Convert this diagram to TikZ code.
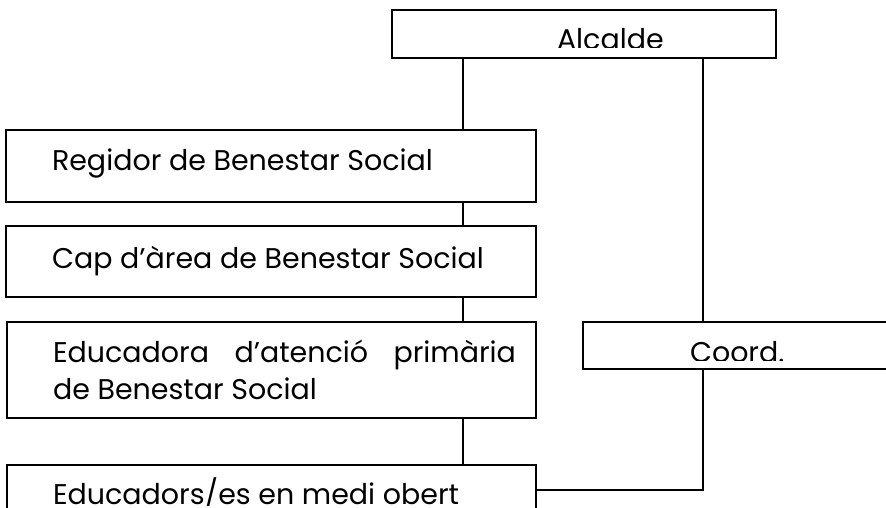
\documentclass[tikz,border=0pt]{standalone}
\usepackage{fontspec}
\setmainfont{Poppins}
\begin{document}
\begin{tikzpicture}[x=1pt,y=-1pt,
  box/.style={draw, line width=1.6pt, inner sep=0pt, outer sep=0pt, rectangle},
  wire/.style={line width=1.6pt},
  lbl/.style={anchor=base west, inner sep=0pt, outer sep=0pt, font=\fontsize{28.5}{36}\selectfont}]
\useasboundingbox (0,0) rectangle (886,508);
% boxes
\node[box, minimum width=384pt, minimum height=48pt] (alc) at (584,34) {};
\node[box, minimum width=530pt, minimum height=72pt] (reg) at (271,166) {};
\node[box, minimum width=530pt, minimum height=71pt] (cap) at (271,261.5) {};
\node[box, minimum width=529pt, minimum height=96pt] (edu) at (271.5,370) {};
\node[box, minimum width=529pt, minimum height=95pt] (eds) at (271.5,512.5) {};
\node[box, minimum width=367pt, minimum height=47pt] (co) at (766.5,345.5) {};
% texts
\begin{scope}
  \clip (392,10) rectangle (776,48);
  \node[lbl] (alct) at (557,49.5) {Alcalde};
\end{scope}
\begin{scope}
  \clip (583,322) rectangle (886,360.5);
  \node[lbl] (cot) at (690,362) {Coord.};
\end{scope}
\begin{scope}
  \clip (7,465) rectangle (536,505);
  \node[lbl] (edst) at (53,504) {Educadors/es en medi obert};
\end{scope}
\node[lbl] (regt) at (52,170) {Regidor de Benestar Social};
\node[lbl] (capt) at (52,268) {Cap d’àrea de Benestar Social};
\node[lbl] (edut1) at (53,362) {\hbox to 463pt{Educadora\hfill d’atenció\hfill primària}};
\node[lbl] (edut2) at (53,399) {de Benestar Social};
% connectors
\coordinate (spine) at (463,0);
\coordinate (rt) at (703,0);
\coordinate (jn) at (703,490);
\draw[wire] (spine |- alc.south) -- (spine |- reg.north);
\draw[wire] (spine |- reg.south) -- (spine |- cap.north);
\draw[wire] (spine |- cap.south) -- (spine |- edu.north);
\draw[wire] (spine |- edu.south) -- (spine |- eds.north);
\draw[wire] (rt |- alc.south) -- (rt |- co.north);
\draw[wire] (rt |- co.south) -- (jn) -- (jn -| eds.east);
\end{tikzpicture}
\end{document}
